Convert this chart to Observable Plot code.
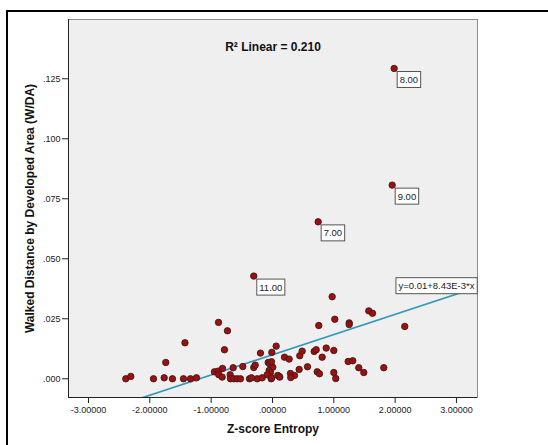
<!DOCTYPE html>
<html><head><meta charset="utf-8">
<script src="https://cdn.jsdelivr.net/npm/d3@7"></script>
<script src="https://cdn.jsdelivr.net/npm/@observablehq/plot@0.6"></script>
<style>
body{margin:0;background:#fff;overflow:hidden;}
#wrap{position:relative;width:548px;height:445px;overflow:hidden;background:#fff;}
#border{position:absolute;left:6px;top:10px;width:600px;height:600px;border:2px solid #000;box-sizing:border-box;}
#chart{position:absolute;left:0;top:0;}
</style></head><body>
<div id="wrap"><div id="border"></div><div id="chart"></div></div>
<script>
const zEntropy = [-2.392,-2.310,-1.940,-1.766,-1.740,-1.631,-1.427,-1.451,-1.337,-1.239,
  -0.880,-0.734,-0.783,-0.946,-0.885,-0.815,-0.876,-0.820,-0.690,-0.641,
  -0.685,-0.631,-0.576,-0.522,-0.484,-0.375,-0.343,-0.249,-0.168,-0.305,
  -0.282,-0.196,-0.011,0.060,-0.070,-0.049,0.005,-0.054,-0.033,-0.086,
  -0.021,0.109,0.196,0.272,0.293,0.973,0.755,1.016,1.251,1.251,
  0.445,0.484,0.680,0.713,0.876,1.000,0.810,1.234,1.309,1.407,
  0.571,0.435,0.086,0.359,0.298,0.729,0.766,1.000,1.032,1.570,
  1.631,2.157,1.489,1.815,-0.016,-0.016,0.119];
const walkedDA = [0,0.0010,0,0.0004,0.0068,0,0.0150,0,0,0.0004,
  0.0235,0.0200,0.0121,0.0029,0.0032,0.0043,0.0017,0.0007,0.0017,0.0046,
  0,0,0,0,0.0051,0,0.0004,0,0.0004,0.0047,
  0.0057,0.0107,0.0110,0.0136,0.0068,0.0063,0.0048,0.0035,0.0026,0.0017,
  0,0.0010,0.0090,0.0082,0.0022,0.0342,0.0222,0.0248,0.0233,0.0226,
  0.0096,0.0115,0.0114,0.0121,0.0128,0.0118,0.0090,0.0072,0.0075,0.0046,
  0.0050,0.0039,0.0014,0.0014,0.0005,0.0029,0.0021,0.0026,0.0001,0.0283,
  0.0273,0.0218,0.0026,0.0046,0.0071,0.0003,0.0007];
const outlierZ = [1.984, 1.952, 0.745, -0.305];
const outlierW = [0.1293, 0.0807, 0.0654, 0.0428];
const outlierLabels = ["8.00", "9.00", "7.00", "11.00"];
const xTicks = [-3, -2, -1, 0, 1, 2, 3];
const xTickLabels = ["-3.00000", "-2.00000", "-1.00000", ".00000", "1.00000", "2.00000", "3.00000"];
const yTicks = [0, 0.025, 0.05, 0.075, 0.1, 0.125];
const yTickLabels = [".000", ".025", ".050", ".075", ".100", ".125"];
const fitIntercept = 0.01, fitSlope = 0.00843;
const fitLabel = "y=0.01+8.43E-3*x";
const titleText = "R\u00B2 Linear = 0.210";
const xTitle = "Z-score Entropy";
const yTitle = "Walked Distance by Developed Area (W/DA)";

const xDomain = [-3.326, 3.343], yDomain = [-0.0078, 0.1497];
const fit = x => fitIntercept + fitSlope * x;
const pts = zEntropy.map((x, i) => ({x, y: walkedDA[i]}));
const outs = outlierZ.map((x, i) => ({x, y: outlierW[i], label: outlierLabels[i]}));
const fitPts = xDomain.map(x => ({x, y: fit(x)}));
const font = "'Liberation Sans', Arial, sans-serif";

const plot = Plot.plot({
  width: 548, height: 445,
  marginLeft: 68, marginRight: 71, marginTop: 19, marginBottom: 48,
  style: {background: "transparent", fontFamily: font, fontSize: "9px", color: "#222"},
  x: {domain: xDomain},
  y: {domain: yDomain},
  marks: [
    Plot.frame({fill: "#efefef", stroke: "#8c8c8c"}),
    Plot.ruleX([xDomain[0]], {stroke: "#222"}),
    Plot.ruleY([yDomain[0]], {stroke: "#222"}),
    Plot.axisX(xTicks, {tickFormat: d => xTickLabels[xTicks.indexOf(d)], tickSize: 6, tickPadding: 3, fontSize: 9, label: null, stroke: "#222"}),
    Plot.axisY(yTicks, {tickFormat: d => yTickLabels[yTicks.indexOf(d)], tickSize: 6, tickPadding: 2, fontSize: 9, label: null, stroke: "#222"}),
    Plot.line(fitPts, {x: "x", y: "y", stroke: "#3399bb", strokeWidth: 1.7, clip: true}),
    Plot.dot(pts, {x: "x", y: "y", r: 3.2, fill: "#a00f0f", stroke: "#3b1b1b", strokeWidth: 0.9}),
    Plot.dot(outs, {x: "x", y: "y", r: 3.2, fill: "#a00f0f", stroke: "#3b1b1b", strokeWidth: 0.9}),
    Plot.text(outs, {x: "x", y: "y", text: "label", textAnchor: "start", dx: 5.5, dy: 11.5, fill: "#222", fontSize: 9.5}),
    Plot.text([fitLabel], {x: () => xDomain[1], y: () => fit(xDomain[1]), textAnchor: "end", dx: -3, dy: -1, fill: "#222", fontSize: 9.5}),
    Plot.text([titleText], {frameAnchor: "top", dy: 23, fontWeight: "bold", fontSize: 12, fill: "#111"}),
    Plot.text([xTitle], {frameAnchor: "bottom", dy: 35, fontWeight: "bold", fontSize: 12, fill: "#111"}),
    Plot.text([yTitle], {frameAnchor: "left", textAnchor: "middle", dx: -38, rotate: -90, fontWeight: "bold", fontSize: 12, fill: "#111"})
  ]
});
document.getElementById("chart").appendChild(plot);

// draw SPSS-style boxes behind the point labels and the equation label
const boxed = new Set([...outlierLabels, fitLabel]);
plot.querySelectorAll("text").forEach(t => {
  if (!boxed.has(t.textContent)) return;
  const b = t.getBBox();
  const r = document.createElementNS("http://www.w3.org/2000/svg", "rect");
  r.setAttribute("x", b.x - 2.5);
  r.setAttribute("y", b.y - 2.5);
  r.setAttribute("width", b.width + 5);
  r.setAttribute("height", b.height + 5);
  r.setAttribute("fill", "#fff");
  r.setAttribute("stroke", "#555");
  r.setAttribute("stroke-width", "1");
  const tr = t.getAttribute("transform");
  if (tr) r.setAttribute("transform", tr);
  t.parentNode.insertBefore(r, t);
});
</script>
</body></html>
